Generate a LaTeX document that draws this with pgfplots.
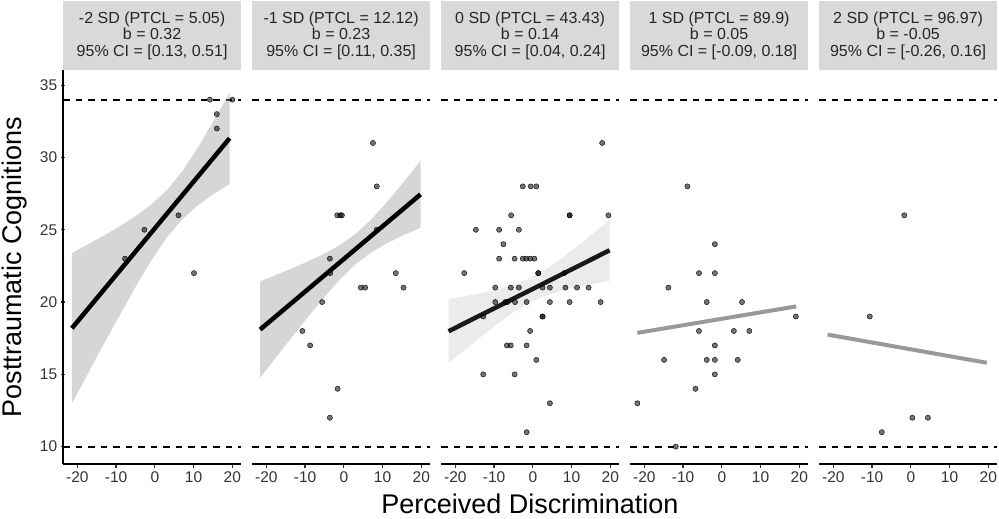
\documentclass[border=0pt]{standalone}
\usepackage{fontspec}
\setmainfont{Liberation Sans}
\usepackage{pgfplots}
\pgfplotsset{compat=1.18}

\definecolor{stripgray}{HTML}{D9D9D9}
\definecolor{fitgray}{HTML}{999999}

\pgfplotsset{
  panel/.style={
    scale only axis,
    anchor=south west,
    width=178.25pt, height=394pt,
    xmin=-23.7, xmax=22.3,
    ymin=8.8, ymax=36.05,
    axis x line=bottom,
    axis line style={-, line width=1.5pt, black},
    x axis line style={-},
    y axis line style={-},
    xtick={-20,-10,0,10,20},
    tick align=outside,
    major tick length=4.5pt,
    tick style={line width=1.3pt, black!80},
    tick label style={font=\fontsize{15.5}{18}\selectfont, text=black!80},
    /pgf/number format/assume math mode=true,
    clip=false,
  },
  hline/.style={black, line width=1.8pt, dash pattern=on 6.5pt off 6pt, forget plot},
  pts/.style={only marks, mark=*, mark size=2.6pt,
    mark options={draw=none, fill=black, fill opacity=0.55}},
  band/.style={draw=none, fill=black!40, fill opacity=#1},
  fit/.style={line width=4.5pt, black},
  flat/.style={line width=4pt, fitgray},
}

\begin{document}
\begin{tikzpicture}
\useasboundingbox (0,0) rectangle (999pt,519pt);

% panel 1: -2 SD
\begin{axis}[panel, at={(63pt,55pt)}, axis y line=left,
  y axis line style={-},
  ytick={10,15,20,25,30,35}]
\addplot[hline] coordinates {(-23.7,34) (22.3,34)};
\addplot[hline] coordinates {(-23.7,10) (22.3,10)};
\addplot[pts] coordinates {
  (14.2,34)(20,34)(16,33)(16,32)(6.1,26)(-2.7,25)(-7.7,23)(10.1,22)};
\addplot[band=0.4] coordinates {
  (-21.4,23.39)(-17,24.03)(-13,24.62)(-9,25.25)(-5,25.94)(-1,26.72)
  (3,27.71)(7,29.01)(11,30.63)(15,32.45)(19.3,34.50)
  (19.3,28.16)(15,27.45)(11,26.67)(7,25.71)(3,24.43)(-1,22.84)
  (-5,21.04)(-9,19.13)(-13,17.18)(-17,15.19)(-21.4,12.99)} -- cycle;
\addplot[fit] coordinates {(-21.4,18.19) (19.3,31.33)};
\end{axis}

% panel 2: -1 SD
\begin{axis}[panel, at={(252pt,55pt)}, axis y line=none]
\addplot[hline] coordinates {(-23.7,34) (22.3,34)};
\addplot[hline] coordinates {(-23.7,10) (22.3,10)};
\addplot[pts] coordinates {
  (7.5,31)(8.5,28)(-1.7,26)(-0.9,26)(-0.5,26)(8.5,25)(-3.6,23)(-3.5,22)
  (4.4,21)(5.5,21)(13.4,22)(15.4,21)(-5.6,20)(-10.7,18)(-8.7,17)
  (-1.6,14)(-3.6,12)};
\addplot[band=0.4] coordinates {
  (-21.6,21.43)(-17,21.93)(-13,22.37)(-9,22.84)(-5,23.35)(-1,23.94)
  (3,24.71)(7,25.70)(11,26.87)(15,28.16)(19.8,29.76)
  (19.8,25.14)(15,24.58)(11,24.05)(7,23.42)(3,22.61)(-1,21.56)
  (-5,20.35)(-9,19.06)(-13,17.71)(-17,16.35)(-21.6,14.77)} -- cycle;
\addplot[fit] coordinates {(-21.6,18.1) (19.8,27.45)};
\end{axis}

% panel 3: 0 SD
\begin{axis}[panel, at={(441pt,55pt)}, axis y line=none]
\addplot[hline] coordinates {(-23.7,34) (22.3,34)};
\addplot[hline] coordinates {(-23.7,10) (22.3,10)};
\addplot[pts] coordinates {
  (17.9,31)
  (-2.6,28)(-0.55,28)(0.9,28)
  (-5.6,26)(9.5,26)(9.5,26)(19.5,26)
  (-14.7,25)(-8.7,25)(-3.6,25)
  (-7.6,24)
  (-8.7,23)(-4.7,23)(-2.6,23)(-1.7,23)(-0.7,23)(0.4,23)
  (-17.7,22)(1.4,22)(1.4,22)(8.1,22)
  (-9.7,21)(-5.7,21)(-3.6,21)(2.5,21)(4.4,21)(8.4,21)(11.4,21)(14.4,21)
  (-9.7,20)(-7.1,20)(-6.6,20)(-4.6,20)(-1.6,20)(4.4,20)(9.5,20)(17.5,20)
  (-12.8,19)(2.5,19)(2.5,19)
  (-0.7,18)
  (-6.7,17)(-5.7,17)(-1.6,17)
  (0.9,16)
  (-12.8,15)(-4.7,15)
  (4.4,13)
  (-1.6,11)};
\addplot[band=0.2] coordinates {
  (-21.75,20.20)(-17,20.43)(-13,20.64)(-9,20.88)(-5,21.19)(-1,21.62)
  (3,22.21)(7,22.94)(11,23.76)(15,24.62)(19.8,25.69)
  (19.8,21.47)(15,21.24)(11,21.02)(7,20.76)(3,20.41)(-1,19.94)
  (-5,19.29)(-9,18.52)(-13,17.68)(-17,16.81)(-21.75,15.76)} -- cycle;
\addplot[fit, black!90] coordinates {(-21.75,17.98) (19.8,23.58)};
\end{axis}

% panel 4: 1 SD
\begin{axis}[panel, at={(630pt,55pt)}, axis y line=none]
\addplot[hline] coordinates {(-23.7,34) (22.3,34)};
\addplot[hline] coordinates {(-23.7,10) (22.3,10)};
\addplot[pts] coordinates {
  (-8.9,28)(-1.8,24)(-5.9,22)(-1.8,22)(-13.8,21)(-3.9,20)(5.2,20)(19.1,19)
  (-5.9,18)(3.1,18)(7.1,18)(-1.8,17)(-14.9,16)(-3.9,16)(-1.8,16)(4.1,16)
  (-1.8,15)(-6.8,14)(-21.8,13)(-11.9,10)};
\addplot[flat] coordinates {(-21.8,17.87) (19.2,19.7)};
\end{axis}

% panel 5: 2 SD
\begin{axis}[panel, at={(819pt,55pt)}, axis y line=none]
\addplot[hline] coordinates {(-23.7,34) (22.3,34)};
\addplot[hline] coordinates {(-23.7,10) (22.3,10)};
\addplot[pts] coordinates {
  (-1.7,26)(-10.6,19)(0.4,12)(4.4,12)(-7.5,11)};
\addplot[flat] coordinates {(-21.5,17.75) (19.6,15.8)};
\end{axis}

% facet strips
\foreach \k/\txt in {
  0/{-2 SD (PTCL = 5.05)\\b = 0.32\\95\% CI = [0.13, 0.51]},
  1/{-1 SD (PTCL = 12.12)\\b = 0.23\\95\% CI = [0.11, 0.35]},
  2/{0 SD (PTCL = 43.43)\\b = 0.14\\95\% CI = [0.04, 0.24]},
  3/{1 SD (PTCL = 89.9)\\b = 0.05\\95\% CI = [-0.09, 0.18]},
  4/{2 SD (PTCL = 96.97)\\b = -0.05\\95\% CI = [-0.26, 0.16]}} {
  \fill[stripgray] ({63pt+189pt*\k},449pt) rectangle ++(178.25pt,68.5pt);
  \node[align=center, text=black!85, font=\fontsize{16}{16.5}\selectfont,
    inner sep=0pt] at ({63pt+189pt*\k+89.1pt},483.5pt) {\txt};
}

% axis titles
\node[rotate=90, font=\fontsize{27}{30}\selectfont] at (15pt,252pt)
  {Posttraumatic Cognitions};
\node[font=\fontsize{27}{30}\selectfont] at (530pt,15pt)
  {Perceived Discrimination};
\end{tikzpicture}
\end{document}
